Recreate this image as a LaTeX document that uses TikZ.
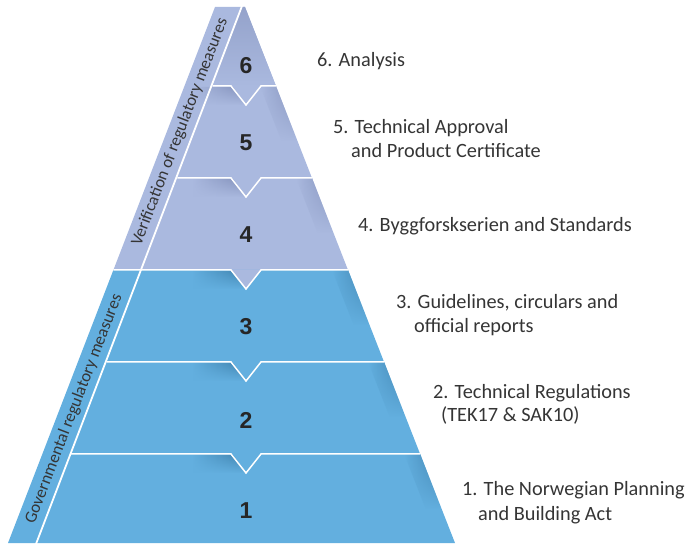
\documentclass[tikz,border=0pt]{standalone}
\usepackage{fontspec}
\setmainfont{Carlito}
\newfontfamily\numfont{Liberation Sans}
\usetikzlibrary{fadings}
\definecolor{lav}{HTML}{AAB9DF}
\definecolor{lavdark}{HTML}{8290BA}
\definecolor{blu}{HTML}{63AFDF}
\definecolor{bludark}{HTML}{3F82AE}
\definecolor{txt}{HTML}{353535}
\tikzfading[name=fadedown, top color=transparent!0, bottom color=transparent!100]
\begin{document}
\begin{tikzpicture}[x=1pt,y=-1pt,
  sep/.style={draw=white, line width=1.5pt, line join=miter},
  lbl/.style={anchor=base west, inner sep=0pt, text=txt, font=\fontsize{20.3}{23}\selectfont},
  num/.style={inner sep=0pt, text=black!85, font=\numfont\bfseries\fontsize{23}{26}\selectfont},
  side/.style={inner sep=0pt, text=txt, font=\fontsize{17}{19}\selectfont}]
\useasboundingbox (0,0) rectangle (686,545);
% base fills
\fill[lav] (215,7) -- (245,7) -- (348,270) -- (113.4,270) -- cycle;
\fill[blu] (113.4,270) -- (348,270) -- (455,543) -- (8,543) -- cycle;
% apex darkening
\shade[top color=lav!45!lavdark, bottom color=lav] (242,7) -- (245,7) -- (276,86) -- (212.6,86) -- cycle;
% right edge shadows
\foreach \yy/\cc/\cd in {86/lav/lavdark,178/lav/lavdark,270/blu/bludark,362/blu/bludark,454/blu/bludark}{
  \pgfmathsetmacro\xa{245+(\yy-7)/536*210}
  \pgfmathsetmacro\xb{245+(\yy+48)/536*210}
  \shade[left color=\cc, right color=\cd, path fading=fadedown] (\xa-16,\yy) -- (\xa,\yy) -- (\xb,\yy+55) -- (\xb-16,\yy+55) -- cycle;
}
% notch shadows
\foreach \yy/\cc/\cd in {86/lav/lavdark,178/lav/lavdark,270/blu/bludark,362/blu/bludark,454/blu/bludark}{
  \shade[left color=\cc, right color=\cd, path fading=fadedown] (192,\yy+1) -- (233,\yy+1) -- (246,\yy+19) -- (192,\yy+19) -- cycle;
}
% lavender tab into band 3
\fill[lav] (231,270) -- (246,289) -- (261,270) -- cycle;
% white separators
\draw[sep, line width=1.8pt] (242,6) -- (36,544);
\foreach \yy in {86,178,362,454}{
  \pgfmathsetmacro\xl{243-(\yy-7)/536*206}
  \pgfmathsetmacro\xr{245+(\yy-7)/536*210}
  \draw[sep] (\xl,\yy) -- (231,\yy) -- (246,\yy+19) -- (261,\yy) -- (\xr,\yy);
}
\draw[sep] (113.4,270) -- (231,270) -- (246,289) -- (261,270) -- (348,270);
% numbers
\node[num] (n6) at (246,66) {6};
\node[num] (n5) at (246,143) {5};
\node[num] (n4) at (246,235) {4};
\node[num] (n3) at (246,327) {3};
\node[num] (n2) at (246,420) {2};
\node[num] (n1) at (246,511) {1};
% side labels
\node[side, rotate=69] (ver) at (180,132) {Verification of regulatory measures};
\node[side, rotate=69] (gov) at (74,409) {Governmental regulatory measures};
% right labels
\node[lbl] (t6) at (317,67) {6. Analysis};
\node[lbl] (t5a) at (333,134) {5. Technical Approval};
\node[lbl] (t5b) at (351,158) {and Product Certificate};
\node[lbl] (t4) at (358,232) {4. Byggforskserien and Standards};
\node[lbl] (t3a) at (396,309) {3. Guidelines, circulars and};
\node[lbl] (t3b) at (414,333) {official reports};
\node[lbl] (t2a) at (433,399) {2. Technical Regulations};
\node[lbl] (t2b) at (441,421) {(TEK17 \& SAK10)};
\node[lbl] (t1a) at (462,496) {1. The Norwegian Planning};
\node[lbl] (t1b) at (478,520) {and Building Act};
\end{tikzpicture}
\end{document}
